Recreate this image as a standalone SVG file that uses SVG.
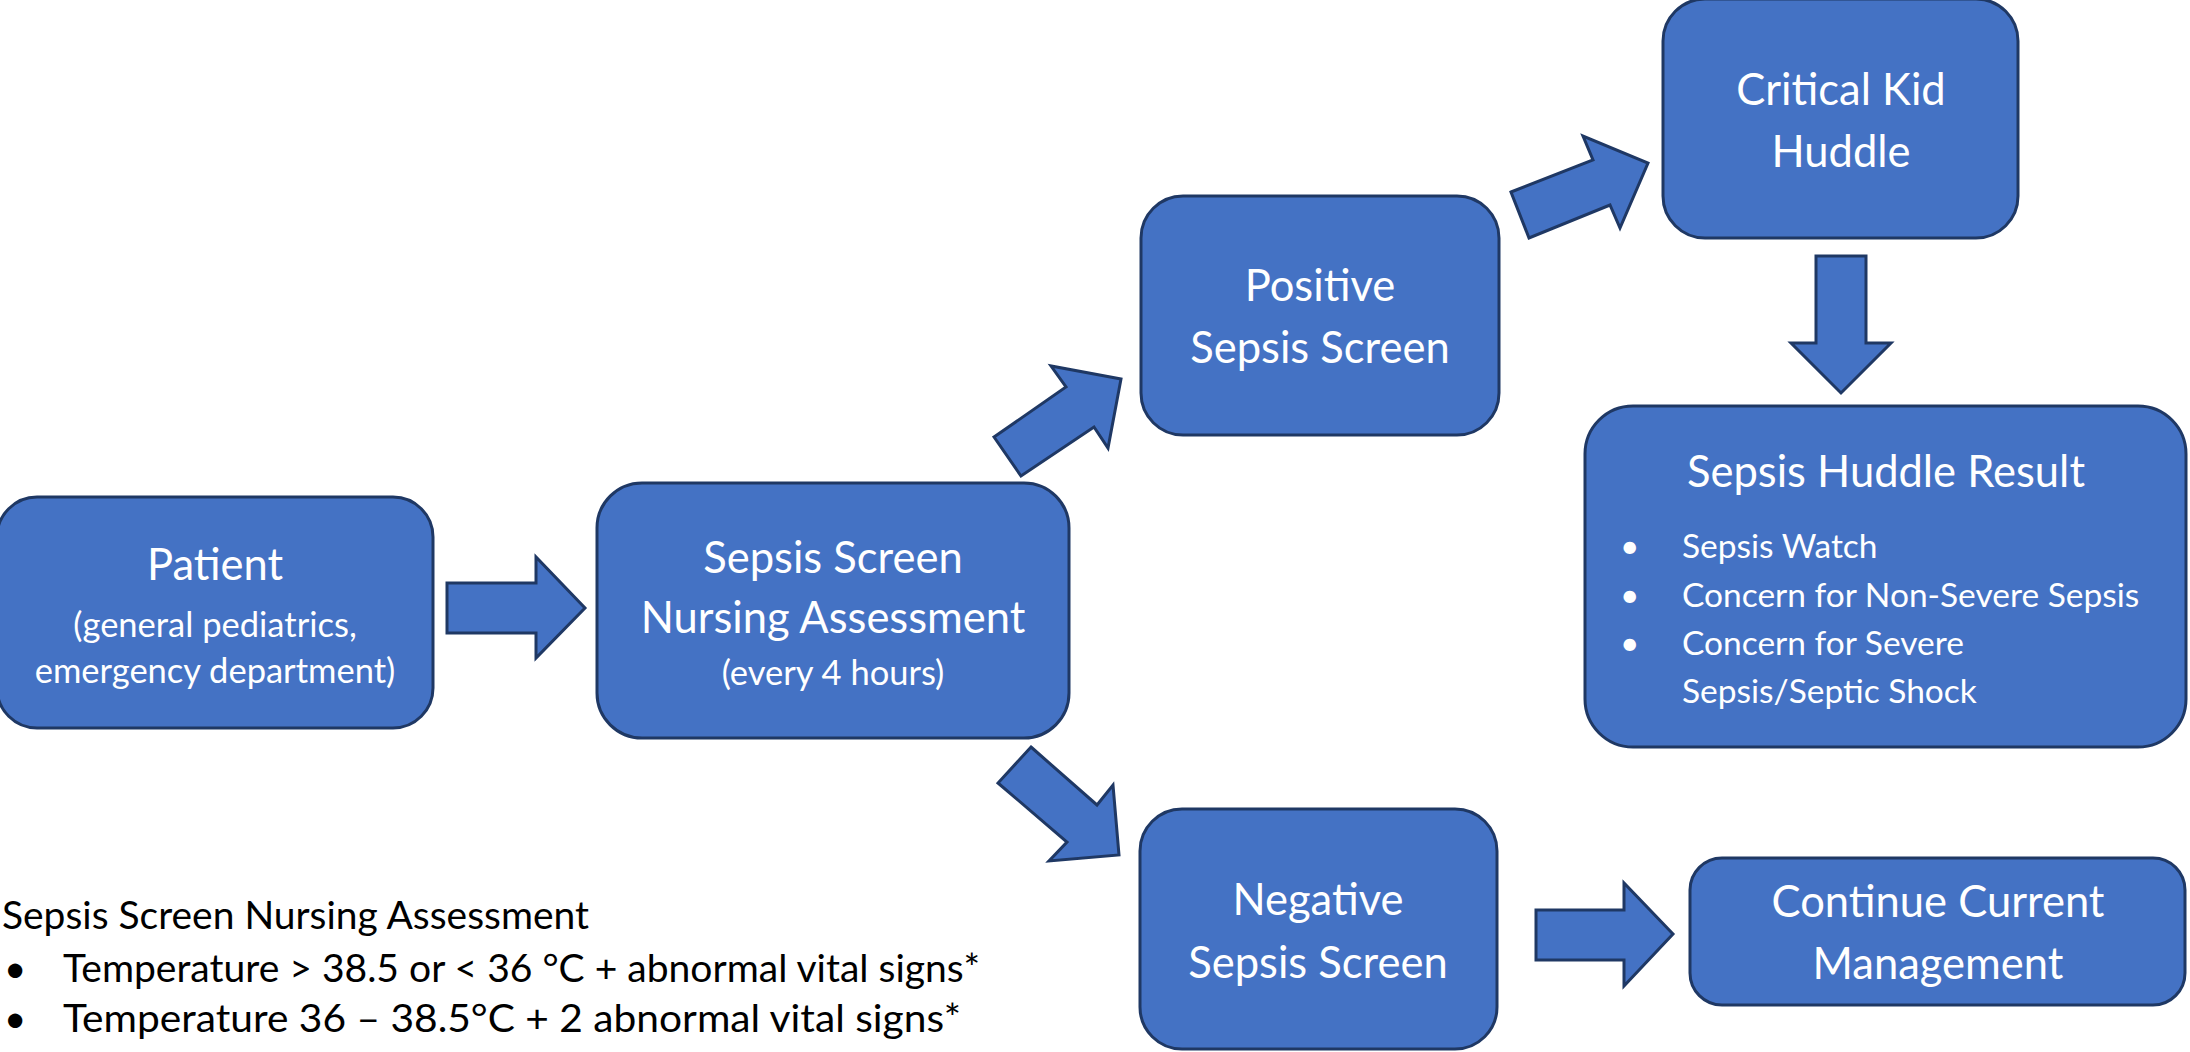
<svg xmlns="http://www.w3.org/2000/svg" width="2190" height="1052" viewBox="0 0 2190 1052">
<style>
.box{fill:#4472C4;stroke:#1F3864;stroke-width:3}
.arr{fill:#4472C4;stroke:#1F3864;stroke-width:3;stroke-linejoin:miter}
.t{font-family:Lato,"Liberation Sans",sans-serif;fill:#ffffff}
.m{font-size:43.5px;text-anchor:middle}
.s{font-size:34.5px;text-anchor:middle}
.b{font-size:33.5px}
.lg{font-family:Lato,"Liberation Sans",sans-serif;fill:#000000;font-size:38.5px}
</style>
<rect width="2190" height="1052" fill="#ffffff"/>
<g id="connectors">
<polygon class="arr" points="447,583 536,583 536,557 585,608 536,658 536,633 447,633"/>
<polygon class="arr" points="994,437 1066,387 1051,366 1121,379 1108,448 1094,427 1021,476"/>
<polygon class="arr" points="1511,192 1593,160 1583,136 1648,163 1620,228 1610,205 1529,238"/>
<polygon class="arr" points="1816,256 1866,256 1866,343 1891,343 1841,393 1791,343 1816,343"/>
<polygon class="arr" points="1031,747 1097,805 1113,785 1119,855 1049,861 1067,842 998,783"/>
<polygon class="arr" points="1536,910 1624,910 1624,883 1673,934 1624,986 1624,960 1536,960"/>
</g>
<g id="patient">
<rect class="box" x="-3" y="497" width="436" height="231" rx="40"/>
<text class="t m" x="215" y="580">Patient</text>
<text class="t s" x="215" y="637">(general pediatrics,</text>
<text class="t s" x="215" y="683">emergency department)</text>
</g>
<g id="sepsis-screen">
<rect class="box" x="597" y="483" width="472" height="255" rx="45"/>
<text class="t m" x="833" y="573">Sepsis Screen</text>
<text class="t m" x="833" y="633">Nursing Assessment</text>
<text class="t s" x="833" y="685">(every 4 hours)</text>
</g>
<g id="positive">
<rect class="box" x="1141" y="196" width="358" height="239" rx="42"/>
<text class="t m" x="1320" y="301">Positive</text>
<text class="t m" x="1320" y="363">Sepsis Screen</text>
</g>
<g id="critical-kid-huddle">
<rect class="box" x="1663" y="-1" width="355" height="239" rx="42"/>
<text class="t m" x="1841" y="105">Critical Kid</text>
<text class="t m" x="1841" y="167">Huddle</text>
</g>
<g id="sepsis-huddle-result">
<rect class="box" x="1585" y="406" width="601" height="341" rx="48"/>
<text class="t m" x="1886" y="487">Sepsis Huddle Result</text>
<text class="t b" x="1620" y="558">•</text>
<text class="t b" x="1682" y="558">Sepsis Watch</text>
<text class="t b" x="1620" y="607">•</text>
<text class="t b" x="1682" y="607">Concern for Non-Severe Sepsis</text>
<text class="t b" x="1620" y="655">•</text>
<text class="t b" x="1682" y="655">Concern for Severe</text>
<text class="t b" x="1682" y="703">Sepsis/Septic Shock</text>
</g>
<g id="negative">
<rect class="box" x="1140" y="809" width="357" height="240" rx="42"/>
<text class="t m" x="1318" y="915">Negative</text>
<text class="t m" x="1318" y="978">Sepsis Screen</text>
</g>
<g id="continue">
<rect class="box" x="1690" y="858" width="495" height="147" rx="32"/>
<text class="t m" x="1938" y="917">Continue Current</text>
<text class="t m" x="1938" y="979">Management</text>
</g>
<g id="legend">
<text class="lg" x="2" y="929" textLength="587" lengthAdjust="spacingAndGlyphs">Sepsis Screen Nursing Assessment</text>
<text class="lg" x="4" y="982">•</text>
<text class="lg" x="63" y="982" textLength="917" lengthAdjust="spacingAndGlyphs">Temperature &gt; 38.5 or &lt; 36 °C + abnormal vital signs*</text>
<text class="lg" x="4" y="1032">•</text>
<text class="lg" x="63" y="1032" textLength="898" lengthAdjust="spacingAndGlyphs">Temperature 36 – 38.5°C + 2 abnormal vital signs*</text>
</g>
</svg>
